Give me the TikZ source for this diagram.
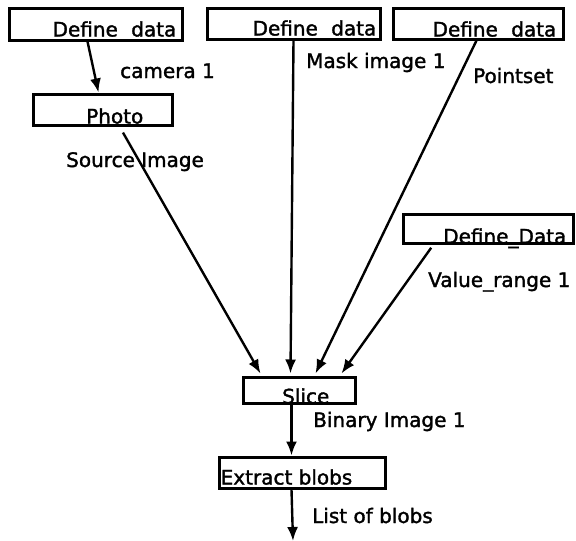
\documentclass[tikz,border=0pt]{standalone}
\usepackage{fontspec}
\setmainfont[FakeBold=1.6]{DejaVu Sans}
\usetikzlibrary{arrows.meta,calc}
\begin{document}
\begin{tikzpicture}[x=1pt,y=-1pt,
  box/.style={draw=black, line width=3pt, inner sep=0pt, fill=none},
  txt/.style={inner sep=0pt, font=\fontsize{20}{24}\selectfont},
  conn/.style={line width=2.4pt, draw=black},
  arr/.style={conn, -{Latex[length=14pt,width=11pt]}}
]
\useasboundingbox (0,0) rectangle (576,541);

% boxes
\node[box, minimum width=173pt, minimum height=32pt] (d1) at (95.5,24) {};
\node[box, minimum width=173pt, minimum height=31pt] (d2) at (293.5,23.5) {};
\node[box, minimum width=170pt, minimum height=31pt] (d3) at (478,23.5) {};
\node[box, minimum width=170pt, minimum height=29pt] (d4) at (488,228.5) {};
\node[box, minimum width=139pt, minimum height=31pt] (photo) at (102.5,109.5) {};
\node[box, minimum width=112pt, minimum height=26pt] (slice) at (299,390) {};
\node[box, minimum width=166pt, minimum height=31pt] (blobs) at (302,472.5) {};

% box texts
\node[txt, anchor=base east] (d1t) at ($(d1.south east)+(-7,-5)$) {Define\hspace{0.35em} data};
\node[txt, anchor=base east] (d2t) at ($(d2.south east)+(-5,-5)$) {Define\hspace{0.35em} data};
\node[txt, anchor=base east] (d3t) at ($(d3.south east)+(-8,-4)$) {Define\hspace{0.35em} data};
\node[txt, anchor=base east] (d4t) at ($(d4.south east)+(-8,-1)$) {Define\_Data};
\node[txt, anchor=base east] (photot) at ($(photo.south east)+(-30,-3)$) {Photo};
\node[txt, anchor=base east] (slicet) at ($(slice.south east)+(-27,-1)$) {Slice};
\node[txt, anchor=base west] (blobst) at ($(blobs.south west)+(3,-5)$) {Extract blobs};

% data labels
\node[txt, anchor=base west] (l1) at (120,78) {camera 1};
\node[txt, anchor=base west] (l2) at (66,167) {Source Image};
\node[txt, anchor=base west] (l3) at (306,68) {Mask image 1};
\node[txt, anchor=base west] (l4) at (473,83) {Pointset};
\node[txt, anchor=base west] (l5) at (428,287) {Value\_range 1};
\node[txt, anchor=base west] (l6) at (313,427) {Binary Image 1};
\node[txt, anchor=base west] (l7) at (312,523) {List of blobs};

% connectors
\draw[arr] ($(d1.south west)+(80,0)$) -- ($(photo.north west)+(67,0)$);
\draw[arr, shorten <=7pt] ($(photo.south west)+(88,0)$) -- ($(slice.north west)+(19,-2)$);
\draw[arr] (d2.south) -- ($(slice.north west)+(49,-2)$);
\draw[arr] ($(d3.south west)+(85,0)$) -- ($(slice.north west)+(74,-2)$);
\draw[arr, shorten <=4pt] ($(d4.south west)+(32,0)$) -- ($(slice.north west)+(100,-2)$);
\draw[arr] ($(slice.south west)+(50,0)$) -- ($(blobs.north west)+(74,0)$);
\coordinate (out) at (293,541);
\draw[arr] ($(blobs.south west)+(74,0)$) -- (out);
\end{tikzpicture}
\end{document}
